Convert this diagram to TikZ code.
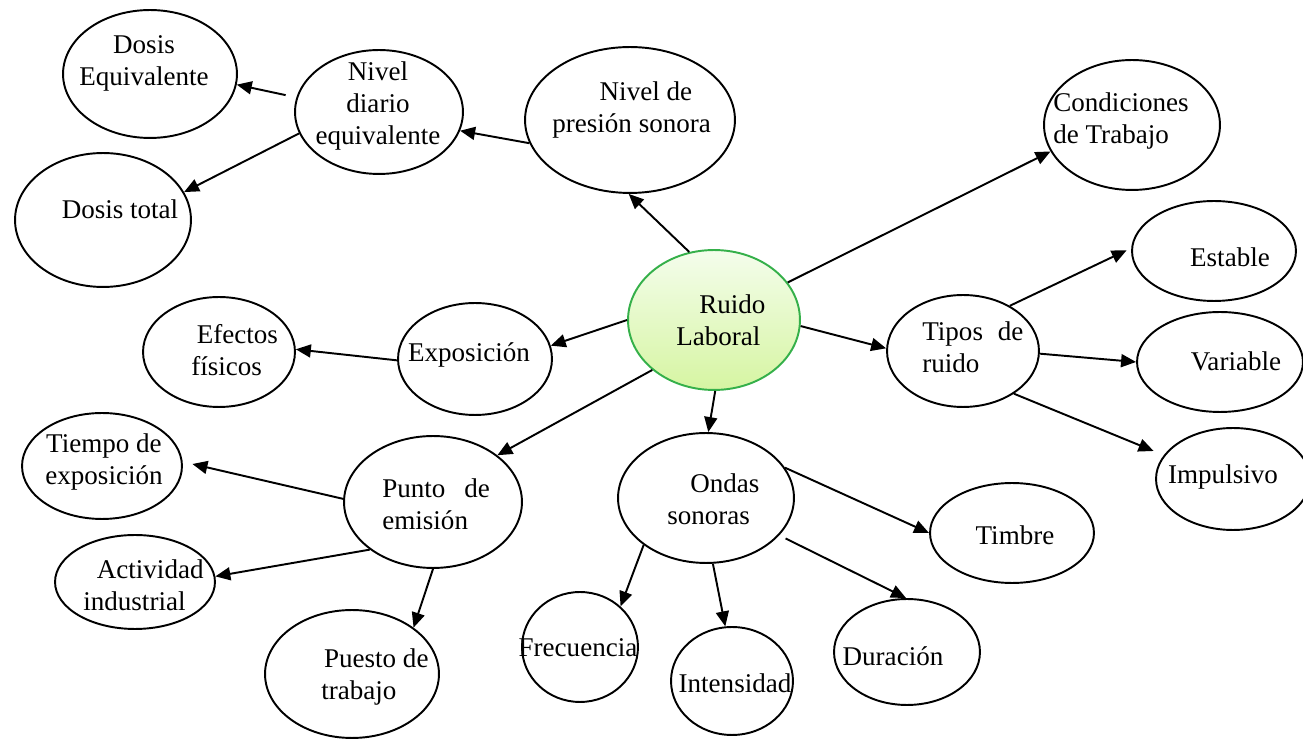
\documentclass[tikz,border=0pt]{standalone}
\usepackage{fontspec}
\setmainfont{Liberation Serif}
\usetikzlibrary{shapes.geometric,arrows.meta}
\definecolor{hubline}{HTML}{35B04A}
\definecolor{hubtop}{HTML}{F4FDEC}
\definecolor{hubbot}{HTML}{D6F5A2}
\tikzset{
  oval/.style 2 args={ellipse, draw=black, line width=1.1pt, inner sep=0pt,
    minimum width=#1*0.04cm, minimum height=#2*0.04cm},
  lbl/.style={inner sep=0pt, font=\fontsize{15.4pt}{18.2pt}\selectfont},
  lbll/.style={lbl, anchor=west, align=left},
  lblc/.style={lbl, align=center},
  link/.style={line width=1.1pt, -{Triangle[length=0.3cm,width=0.26cm]}},
}
\begin{document}
\begin{tikzpicture}[x=0.02cm, y=-0.02cm]
\useasboundingbox (0,0) rectangle (1303,739);

% central concept
\node[oval={86}{70}, draw=hubline, top color=hubtop, bottom color=hubbot] (RL) at (714,320) {};

% surrounding concepts
\node[oval={87}{64}] (DE) at (150,74) {};
\node[oval={84}{62}] (ND) at (379,112) {};
\node[oval={88}{67}] (DT) at (103,220) {};
\node[oval={105}{73}] (NP) at (630,120) {};
\node[oval={88}{65}] (CT) at (1132,125) {};
\node[oval={77}{56}] (EX) at (475,359) {};
\node[oval={76}{55}] (EF) at (219,352) {};
\node[oval={76}{56}] (TR) at (963,351) {};
\node[oval={82}{50}] (ES) at (1214,251) {};
\node[oval={83}{50}] (VA) at (1220,362) {};
\node[oval={77}{51}] (IM) at (1233,479) {};
\node[oval={82}{50}] (TI) at (1012,533) {};
\node[oval={88}{65}] (OS) at (706,498) {};
\node[oval={58}{55}] (FR) at (580,647) {};
\node[oval={61}{54}] (IN) at (732,681) {};
\node[oval={73}{53}] (DU) at (907,652) {};
\node[oval={80}{53}] (TE) at (102,466) {};
\node[oval={89}{66}] (PE) at (433,502) {};
\node[oval={80}{47}] (AI) at (135,582) {};
\node[oval={87}{64}] (PT) at (352,674) {};

% labels
\node[lbll] (tRL) at (676,320) {\hspace*{0.85em}Ruido\\Laboral};
\node[lblc] (tDE) at (144,63) {Dosis\\Equivalente};
\node[lblc] (tND) at (378,106) {Nivel\\diario\\equivalente};
\node[lblc] (tDT) at (120,209) {Dosis total};
\node[lbll] (tNP) at (552,110) {\hspace*{1.75em}Nivel de\\presión sonora};
\node[lbll] (tCT) at (1053,121) {Condiciones\\de Trabajo};
\node[lblc] (tEX) at (469,355) {Exposición};
\node[lbll] (tEF) at (191,350) {\hspace*{0.2em}Efectos\\físicos};
\node[lbll] (tTR) at (922,347) {Tipos\hspace{0.55em}de\\ruido};
\node[lblc] (tES) at (1230,257) {Estable};
\node[lblc] (tVA) at (1236,361) {Variable};
\node[lblc] (tIM) at (1223,477) {Impulsivo};
\node[lblc] (tTI) at (1015,535) {Timbre};
\node[lbll] (tOS) at (667,499) {\hspace*{0.85em}Ondas\\sonoras};
\node[lblc] (tFR) at (578,648) {Frecuencia};
\node[lblc] (tIN) at (735,683) {Intensidad};
\node[lblc] (tDU) at (893,656) {Duración};
\node[lblc] (tTE) at (104,462) {Tiempo de\\exposición};
\node[lbll] (tPE) at (382,504) {Punto\hspace{0.7em}de\\emisión};
\node[lbll] (tAI) at (83,585) {\hspace*{0.5em}Actividad\\industrial};
\node[lbll] (tPT) at (321,677) {\hspace*{0.1em}Puesto de\\trabajo};

% connectors
\draw[link] (RL.110) -- (NP.-91);
\draw[link] (NP.-167) -- (ND.-13);
\draw[link, shorten <=0.22cm] (ND.170) -- (DE.-7);
\draw[link] (ND.-165) -- (DT.19);
\draw[link] (RL.27) -- (CT.-162);
\draw[link] (RL.-4) -- (TR.178);
\draw[link, shorten >=0.1cm] (TR.44) -- (ES.178);
\draw[link] (TR.-2) -- (VA.180);
\draw[link, shorten >=0.22cm] (TR.-40) -- (IM.161);
\draw[link] (RL.180) -- (EX.10);
\draw[link] (EX.-179) -- (EF.2);
\draw[link] (RL.-141) -- (PE.36);
\draw[link, shorten >=0.2cm] (PE.178) -- (TE.3);
\draw[link] (PE.-143) -- (AI.4);
\draw[link] (PE.-90) -- (PT.37);
\draw[link] (RL.-89) -- (OS.88);
\draw[link] (OS.21) -- (TI.180);
\draw[link] (OS.-143) -- (FR.45);
\draw[link] (OS.-84) -- (IN.97);
\draw[link, shorten <=0.14cm] (OS.-27) -- (DU.91);
\end{tikzpicture}
\end{document}
